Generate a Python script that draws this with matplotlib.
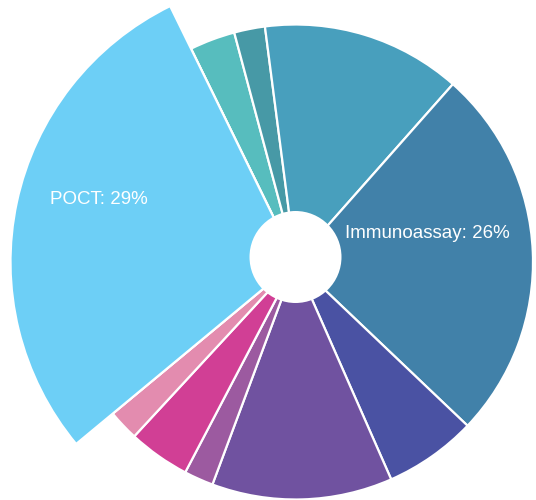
import matplotlib
matplotlib.use("Agg")
import matplotlib.pyplot as plt
from matplotlib.patches import Circle

# segments, clockwise from the top (shares in %)
segments = ["Hematology", "Coagulation", "Clinical chemistry", "Immunoassay",
            "Molecular diagnostics", "Diabetes", "Microbiology", "Tissue diagnostics",
            "Blood gas", "POCT"]
shares = [3.1, 2.1, 13.6, 25.6, 6.3, 12.3, 2.0, 4.2, 2.1, 28.8]
colors = ["#57bdbe", "#4799a6", "#489fbd", "#4181a9", "#4a52a3",
          "#7052a0", "#9c5aa0", "#d13f95", "#e38caf", "#6dcff6"]
labelled = ["Immunoassay", "POCT"]

W, H = 536, 500
center = (295.5, 238)
fig = plt.figure(figsize=(W / 100, H / 100), dpi=100)
ax = fig.add_axes([0, 0, 1, 1])

wedges, _ = ax.pie(shares, colors=colors, startangle=116.1, counterclock=False,
                   radius=237.5, center=center,
                   wedgeprops=dict(edgecolor="white", linewidth=1.6))

# the POCT slice sticks out further than the rest
big, _ = ax.pie(shares, colors=colors, startangle=116.1, counterclock=False,
                radius=285, center=center,
                wedgeprops=dict(edgecolor="white", linewidth=1.6))
for name, w in zip(segments, big):
    if name != "POCT":
        w.set_visible(False)

# hole in the middle
ax.add_patch(Circle((295.5, 243), 46, facecolor="white", edgecolor="none", zorder=5))

total = sum(shares)
label_pos = {"POCT": (50, 300), "Immunoassay": (345, 267)}
for name in labelled:
    v = shares[segments.index(name)]
    x, y = label_pos[name]
    ax.text(x, y, f"{name}: {v / total * 100:.0f}%", color="white", fontsize=13.5,
            family="Liberation Sans", ha="left", va="center", zorder=6)

ax.set_xlim(0, W)
ax.set_ylim(0, H)
ax.set_aspect("equal")
ax.axis("off")
fig.savefig("out.png", dpi=100, facecolor="white")
